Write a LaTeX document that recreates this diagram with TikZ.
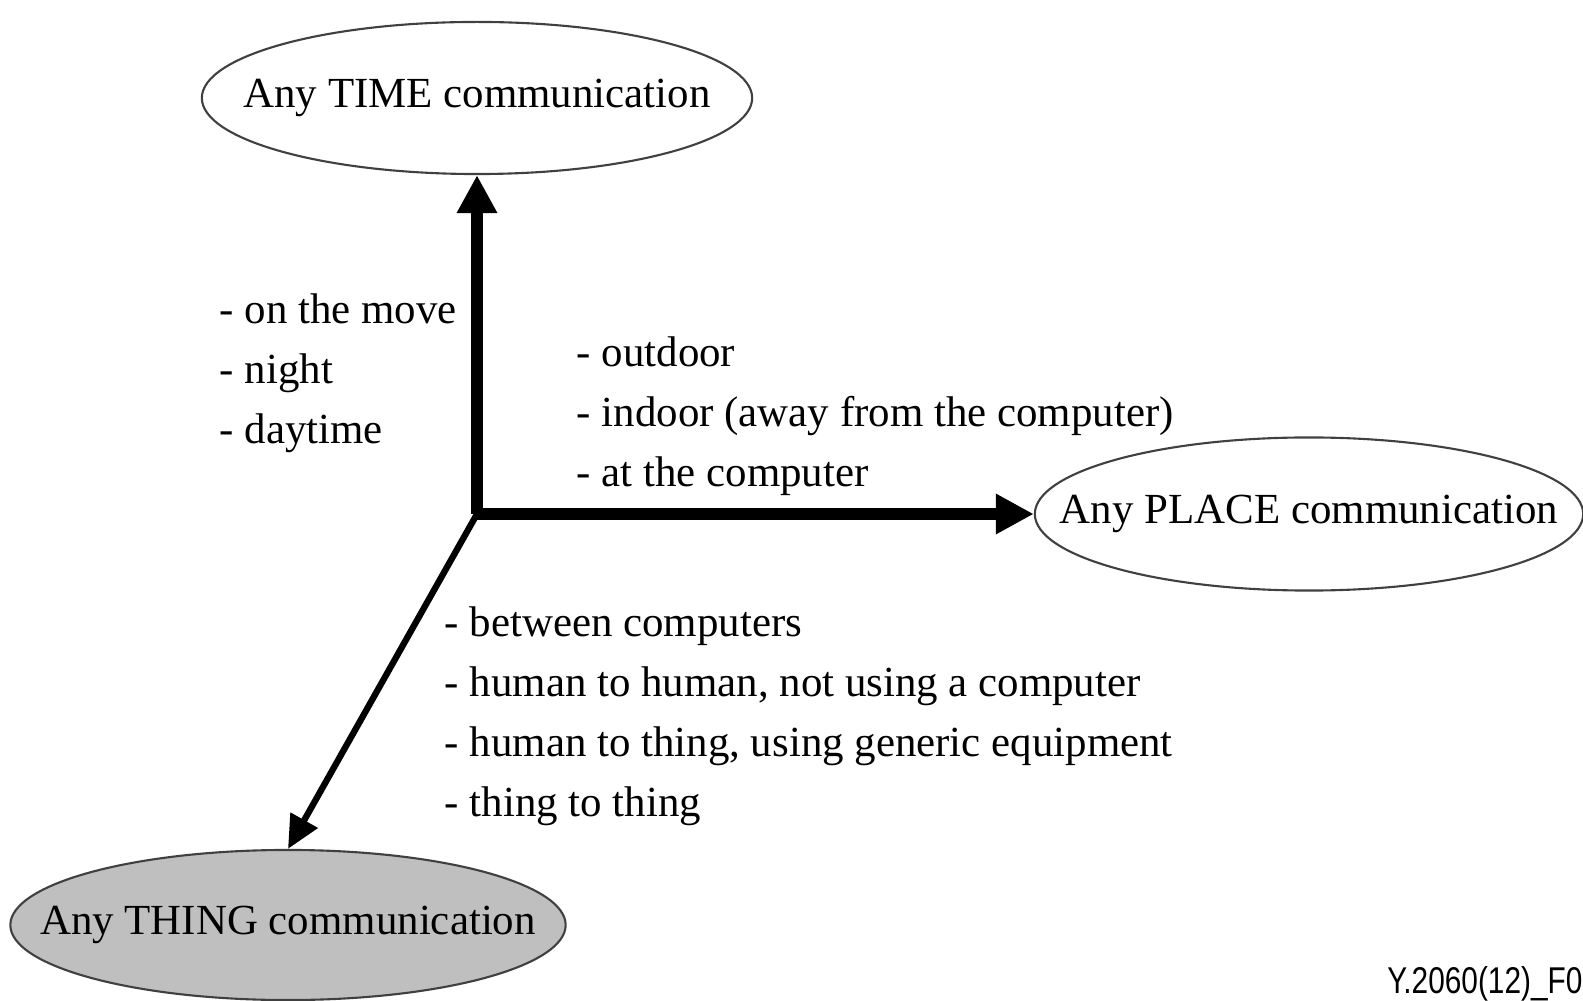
\documentclass[tikz,border=0pt]{standalone}
\usepackage{fontspec}
\setmainfont{Liberation Serif}
\newfontfamily\figfont{Liberation Sans}
\usepackage{tikz}
\usetikzlibrary{arrows.meta,shapes,positioning}
% text that does not widen its ellipse
\newcommand{\bubbletext}[1]{\makebox[0pt]{#1}}

\begin{document}
\begin{tikzpicture}[x=0.01cm,y=-0.01cm,
		bubble/.style={ellipse, draw=black!75, line width=0.6pt, inner sep=0pt, font=\fontsize{12.2}{15}\selectfont},
		axis/.style={line width=3.2pt, -{Triangle[length=0.38cm,width=0.38cm]}},
		items/.style={anchor=north west, align=left, inner sep=0pt, font=\fontsize{12.2}{17.1}\selectfont}]
	\useasboundingbox (0,0) rectangle (1583,1001);
	% the three kinds of communication
	\node[bubble, minimum width=5.5cm, minimum height=1.52cm] (time) at (477,98) {\bubbletext{Any TIME communication}};
	\node[bubble, minimum width=5.48cm, minimum height=1.53cm] (place) at (1309,514) {\bubbletext{Any PLACE communication}};
	\node[bubble, fill=black!25, minimum width=5.55cm, minimum height=1.5cm] (thing) at (288,925) {\bubbletext{Any THING communication}};
	\coordinate (origin) at (477,514);
	% axes
	\draw[axis] (origin) -- (time);
	\draw[axis] (origin) -- (place);
	\draw[line width=1.8pt, -{Triangle[length=0.33cm,width=0.3cm]}] (origin) -- (thing.north);
	% lists along the axes
	\node[items] (timelist) at (219,293) {- on the move\\- night\\- daytime};
	\node[items] (placelist) at (576,336) {- outdoor\\- indoor (away from the computer)\\- at the computer};
	\node[items] (thinglist) at (444,606) {- between computers\\- human to human, not using a computer\\- human to thing, using generic equipment\\- thing to thing};
	\node[anchor=base east, inner sep=0pt, xscale=0.8, font=\figfont\fontsize{10.6}{12}\selectfont] (figid) at (1583,993) {Y.2060(12)\_F0};
\end{tikzpicture}
\end{document}
